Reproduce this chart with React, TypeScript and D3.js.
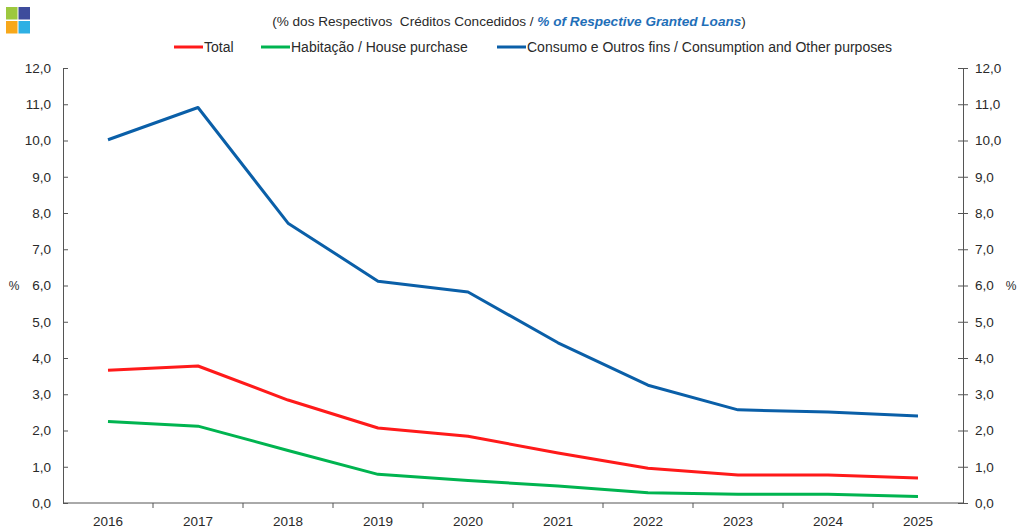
import React, { useRef, useEffect } from 'react';
import * as d3 from 'd3';

const years = ['2016', '2017', '2018', '2019', '2020', '2021', '2022', '2023', '2024', '2025'];
const totalValues = [3.66, 3.78, 2.84, 2.07, 1.84, 1.38, 0.96, 0.77, 0.77, 0.69];
const housingValues = [2.25, 2.12, 1.45, 0.79, 0.62, 0.47, 0.28, 0.24, 0.24, 0.18];
const consumptionValues = [10.02, 10.91, 7.72, 6.12, 5.82, 4.42, 3.25, 2.57, 2.51, 2.4];
const yTicks = [0, 1, 2, 3, 4, 5, 6, 7, 8, 9, 10, 11, 12];

const seriesNames = ['Total', 'Habitação / House purchase', 'Consumo e Outros fins / Consumption and Other purposes'];
const seriesColors = ['#ff1a1a', '#00b450', '#0a5fa8'];

const LoansChart = () => {
    const svgRef = useRef<SVGSVGElement>(null);

    useEffect(() => {
        const svg = d3.select(svgRef.current);
        svg.selectAll('*').remove();

        const width = 1019;
        const height = 529;
        const marginLeft = 63;
        const marginRight = 56;
        const marginTop = 68;
        const marginBottom = 26;
        const font = 'Liberation Sans, Arial, sans-serif';
        const axisColor = '#555';
        const textColor = '#2a2a2a';
        const tickFont = 13.5;

        svg
            .attr('width', width)
            .attr('height', height)
            .attr('viewBox', [0, 0, width, height])
            .style('display', 'block')
            .style('font-family', font);

        // Scales
        const x = d3.scaleBand()
            .domain(years)
            .range([marginLeft, width - marginRight]);

        const y = d3.scaleLinear()
            .domain([0, 12])
            .range([height - marginBottom, marginTop]);

        const fmt = (d: number) => d3.format('.1f')(d).replace('.', ',');

        // Logo squares
        const logo = [
            { dx: 0, dy: 0, c: '#9dc83e' },
            { dx: 1, dy: 0, c: '#3e4c9c' },
            { dx: 0, dy: 1, c: '#f7a81b' },
            { dx: 1, dy: 1, c: '#2eb0e4' },
        ];
        svg.append('g')
            .selectAll('rect')
            .data(logo)
            .join('rect')
            .attr('x', d => 6 + d.dx * 12.5)
            .attr('y', d => 7 + d.dy * 14)
            .attr('width', 11.5)
            .attr('height', 12.5)
            .attr('fill', d => d.c);

        // Title
        const title = svg.append('text')
            .attr('x', 509)
            .attr('y', 26)
            .attr('text-anchor', 'middle')
            .attr('font-size', 13.6)
            .attr('fill', textColor)
            .attr('xml:space', 'preserve');
        title.append('tspan').text('(% dos Respectivos  Créditos Concedidos / ');
        title.append('tspan')
            .text('% of Respective Granted Loans')
            .attr('font-weight', 'bold')
            .attr('font-style', 'italic')
            .attr('fill', '#1f6fb8');
        title.append('tspan').text(')');

        // Legend
        const legendItems = [
            { x: 174, name: seriesNames[0], color: seriesColors[0] },
            { x: 261, name: seriesNames[1], color: seriesColors[1] },
            { x: 497, name: seriesNames[2], color: seriesColors[2] },
        ];
        const legend = svg.append('g')
            .selectAll('g')
            .data(legendItems)
            .join('g')
            .attr('transform', d => `translate(${d.x},47)`);
        legend.append('line')
            .attr('x1', 0)
            .attr('x2', 29)
            .attr('stroke', d => d.color)
            .attr('stroke-width', 3);
        legend.append('text')
            .attr('x', 30)
            .attr('dy', '0.35em')
            .attr('font-size', 14)
            .attr('fill', textColor)
            .text(d => d.name);

        // Left axis
        svg.append('g')
            .attr('transform', `translate(${marginLeft},0)`)
            .call(d3.axisLeft(y).tickValues(yTicks).tickFormat(fmt as any).tickSizeInner(5).tickSizeOuter(0).tickPadding(7))
            .call(g => g.selectAll('.tick line').attr('x2', 5))
            .call(g => g.selectAll('line, path').attr('stroke', axisColor))
            .call(g => g.selectAll('text').attr('font-size', tickFont).attr('fill', textColor).attr('font-family', font));

        // Right axis
        svg.append('g')
            .attr('transform', `translate(${width - marginRight},0)`)
            .call(d3.axisRight(y).tickValues(yTicks).tickFormat(fmt as any).tickSizeInner(5).tickSizeOuter(0).tickPadding(7))
            .call(g => g.selectAll('.tick line').attr('x1', -5))
            .call(g => g.selectAll('line, path').attr('stroke', axisColor))
            .call(g => g.selectAll('text').attr('font-size', tickFont).attr('fill', textColor).attr('font-family', font));

        // Bottom axis with ticks between categories
        const bottom = svg.append('g')
            .attr('transform', `translate(0,${height - marginBottom})`);
        bottom.append('line')
            .attr('x1', marginLeft)
            .attr('x2', width - marginRight)
            .attr('stroke', axisColor);
        bottom.selectAll('line.sep')
            .data(years.slice(1))
            .join('line')
            .attr('class', 'sep')
            .attr('x1', d => x(d)!)
            .attr('x2', d => x(d)!)
            .attr('y1', 0)
            .attr('y2', 5)
            .attr('stroke', axisColor);
        bottom.selectAll('text')
            .data(years)
            .join('text')
            .attr('x', d => x(d)! + x.bandwidth() / 2)
            .attr('y', 23)
            .attr('text-anchor', 'middle')
            .attr('font-size', tickFont)
            .attr('fill', textColor)
            .text(d => d);

        // % labels
        [14, 1011].forEach(px => {
            svg.append('text')
                .attr('x', px)
                .attr('y', y(6))
                .attr('dy', '0.35em')
                .attr('text-anchor', 'middle')
                .attr('font-size', 12)
                .attr('fill', textColor)
                .text('%');
        });

        // Lines
        const series = [consumptionValues, totalValues, housingValues];
        const colors = [seriesColors[2], seriesColors[0], seriesColors[1]];
        const line = d3.line<number>()
            .x((_, i) => x(years[i])! + x.bandwidth() / 2)
            .y(d => y(d));

        svg.append('g')
            .selectAll('path')
            .data(series)
            .join('path')
            .attr('d', d => line(d))
            .attr('fill', 'none')
            .attr('stroke', (_, i) => colors[i])
            .attr('stroke-width', 3)
            .attr('stroke-linejoin', 'round');
    }, []);

    return <svg ref={svgRef}></svg>;
};

export default function App() {
    return (
        <div style={{ position: 'absolute', left: 0, top: 0 }}>
            <LoansChart />
        </div>
    );
}
